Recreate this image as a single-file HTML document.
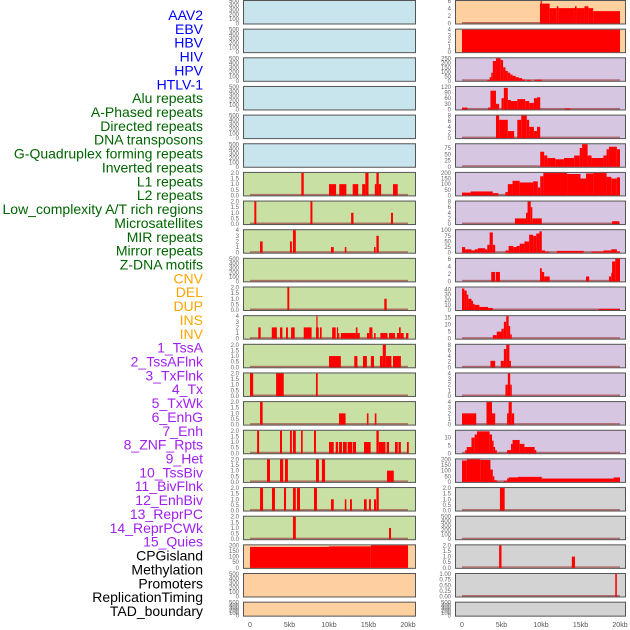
<!DOCTYPE html>
<html><head><meta charset="utf-8">
<style>
html,body{margin:0;padding:0;background:#fff;}
svg{display:block;font-family:"Liberation Sans",sans-serif;}
</style></head>
<body>
<svg id="chart" width="630" height="630" viewBox="0 0 630 630"></svg>
<script>
// ---------- labels ----------
const trackLabels = ["AAV2","EBV","HBV","HIV","HPV","HTLV-1","Alu repeats","A-Phased repeats","Directed repeats","DNA transposons","G-Quadruplex forming repeats","Inverted repeats","L1 repeats","L2 repeats","Low_complexity A/T rich regions","Microsatellites","MIR repeats","Mirror repeats","Z-DNA motifs","CNV","DEL","DUP","INS","INV","1_TssA","2_TssAFlnk","3_TxFlnk","4_Tx","5_TxWk","6_EnhG","7_Enh","8_ZNF_Rpts","9_Het","10_TssBiv","11_BivFlnk","12_EnhBiv","13_ReprPC","14_ReprPCWk","15_Quies","CPGisland","Methylation","Promoters","ReplicationTiming","TAD_boundary"];
const labelGroupSizes = [6,13,5,15,5];
const labelGroupColors = ["#0000ff","#006400","#ffa500","#a020f0","#000000"];
const xTickValues = [0,5,10,15,20];
const xTickLabels = ["0","5kb","10kb","15kb","20kb"];

// ---------- panel backgrounds per row ----------
const leftBg = ["b","b","b","b","b","b","g","g","g","g","g","g","g","g","g","g","g","g","g","o","o","o"];
const rightBg = ["o","o","p","p","p","p","p","p","p","p","p","p","p","p","p","p","p","y","y","y","y","y"];
// y-domain max and ticks
const leftMax = [500,500,500,500,500,500,2,2,4,500,2,4,2,2,2,2,2,2,2,200,500,500];
const rightMax = [6,4,250,120,8,90,200,8,100,6,44,16,8,4,4,14.4,200,2,500,2,1,500];
const leftTicks = [[0,100,200,300,400,500],[0,100,200,300,400,500],[0,100,200,300,400,500],[0,100,200,300,400,500],[0,100,200,300,400,500],[0,100,200,300,400,500],
 [0,0.5,1,1.5,2],[0,0.5,1,1.5,2],[0,1,2,3,4],[0,100,200,300,400,500],[0,0.5,1,1.5,2],[0,1,2,3,4],[0,0.5,1,1.5,2],[0,0.5,1,1.5,2],[0,0.5,1,1.5,2],[0,0.5,1,1.5,2],[0,0.5,1,1.5,2],[0,0.5,1,1.5,2],[0,0.5,1,1.5,2],[0,50,100,150,200],[0,100,200,300,400,500],[0,100,200,300,400,500]];
const rightTicks = [[0,2,4,6],[0,1,2,3,4],[0,50,100,150,200,250],[0,30,60,90,120],[0,2,4,6,8],[0,25,50,75],[0,50,100,150,200],[0,2,4,6,8],[0,25,50,75,100],[0,2,4,6],[0,10,20,30,40],[0,5,10,15],[0,2,4,6,8],[0,1,2,3,4],[0,1,2,3,4],[0,5,10],[0,50,100,150,200],[0,0.5,1,1.5,2],[0,100,200,300,400,500],[0,0.5,1,1.5,2],[0,0.25,0.5,0.75,1],[0,100,200,300,400,500]];
const tickDecimals = [[0,0,0,0,0,0,1,1,0,0,1,0,1,1,1,1,1,1,1,0,0,0],[0,0,0,0,0,0,0,0,0,0,0,0,0,0,0,0,0,1,0,1,2,0]];

// ---------- data segments: [startKb, endKb, value] ----------
const segL07 = [[6.5,6.8,2],[10.0,10.9,1],[11.3,12.2,1],[13.0,13.7,1],[14.2,14.6,1],[14.6,15.0,2],[15.8,16.0,1],[16.0,16.3,2],[16.3,16.6,1],[18.1,18.7,1]];
const segL08 = [[0.55,0.8,2],[7.65,7.9,2],[12.8,13.1,1],[17.85,18.1,1]];
const segL09 = [[1.27,1.6,2],[5.06,5.3,2],[5.44,5.8,4],[10.25,10.6,1],[12.0,12.2,1],[15.7,15.9,1],[16.0,16.3,3]];
const segL10 = [];
const segL11 = [[4.73,4.97,2],[17.0,17.3,1]];
const segL12 = [[1.05,1.35,2],[2.76,3.4,2],[3.8,4.1,2],[4.56,4.8,2],[5.2,5.66,2],[6.8,7.8,2],[8.35,8.4,2],[8.4,8.5,4],[8.5,8.7,2],[8.86,9.07,2],[10.4,10.85,2],[11.0,11.15,2],[11.15,11.27,1],[11.5,13.4,1],[13.4,13.6,2],[13.6,13.9,1],[14.8,15.1,1],[15.1,15.5,2],[15.7,15.9,1],[16.5,17.4,1],[17.6,18.35,1],[18.6,18.86,1],[18.86,19.07,2],[19.07,19.45,1],[19.75,20.05,1]];
const segL13 = [[10.0,11.5,1],[13.2,13.6,1],[14.3,14.8,1],[15.3,15.7,1],[16.45,16.8,1],[16.8,17.2,2],[17.2,17.9,1],[18.1,19.1,1]];
const segL14 = [[0.0,0.4,2],[3.3,4.27,2],[8.35,8.57,2]];
const segL15 = [[1.27,1.6,2],[11.27,12.1,1],[14.8,15.0,1],[15.8,16.0,1]];
const segL16 = [[0.9,1.15,2],[3.8,4.05,2],[5.06,5.3,2],[5.44,5.8,2],[6.46,6.67,2],[8.1,8.35,2],[10.0,10.6,1],[10.85,11.14,1],[11.27,11.65,1],[11.77,12.24,1],[12.36,12.95,1],[13.04,13.42,1],[14.43,15.27,1],[16.0,16.3,2],[16.3,17.15,1],[17.3,17.6,1],[18.35,18.7,1],[18.8,19.1,1],[19.87,20.1,1]];
const segL17 = [[2.15,2.53,2],[3.8,4.2,2],[4.43,4.8,2],[8.35,8.73,2],[9.1,9.5,2],[17.34,18.2,1]];
const segL18 = [[1.27,1.65,2],[2.78,3.16,2],[4.3,4.56,2],[5.44,5.8,2],[5.95,6.33,2],[8.1,8.48,2],[10.25,10.6,1],[12.0,12.2,1],[12.66,12.9,1],[14.43,14.77,1],[15.06,15.3,1],[15.7,15.95,1],[16.0,16.3,2]];
const segL19 = [[5.44,5.8,2],[17.6,17.85,1]];
const segL20 = [[0.0,10.0,186],[10.0,15.3,191],[15.3,20.0,200]];

const segR01 = [[9.87,9.95,5.3],[9.95,10.05,6],[10.05,11.1,5.3],[11.1,12.0,4.1],[12.0,12.2,4.6],[12.2,14.3,4.1],[14.3,14.5,4.6],[14.5,15.5,4.1],[15.5,16.0,4.6],[16.0,16.6,4.1],[16.6,20.0,3.3]];
const segR02 = [[0.0,20.0,4]];
const segR03 = [[3.2,3.5,10],[3.5,3.7,40],[3.7,3.9,90],[3.9,4.3,220],[4.3,4.9,250],[4.9,5.2,230],[5.2,5.5,150],[5.5,5.8,110],[5.8,6.1,90],[6.1,6.4,70],[6.4,6.8,55],[6.8,7.2,40],[7.2,7.6,30],[7.6,8.0,15],[8.2,8.7,10],[9.2,10.1,12]];
const segR04 = [[0.0,0.7,10],[3.3,3.6,10],[3.6,4.3,100],[4.3,4.7,30],[5.0,5.3,60],[5.3,5.8,115],[5.8,6.2,50],[6.2,7.0,45],[7.0,8.0,55],[8.0,8.5,45],[8.5,9.1,35],[9.1,9.5,60],[9.5,9.9,65],[13.0,13.7,5]];
const segR05 = [[4.3,4.7,8],[4.7,5.8,6.5],[5.8,6.6,2.5],[7.0,7.5,6.5],[7.5,8.2,8],[8.2,8.5,6.5],[8.5,9.1,4],[9.1,9.5,2.5],[9.5,9.9,4]];
const segR06 = [[9.9,10.4,60],[10.4,10.8,45],[10.8,11.8,35],[11.8,12.9,30],[12.9,14.2,35],[14.2,14.9,45],[14.9,15.2,75],[15.2,15.9,90],[15.9,16.4,45],[16.4,17.9,35],[17.9,18.3,45],[18.3,18.6,70],[18.6,19.6,80],[19.6,20.0,70]];
const segR07 = [[0.0,1.1,25],[1.1,3.9,35],[3.9,4.6,20],[5.5,5.8,30],[5.8,6.4,100],[6.4,7.3,130],[7.3,9.0,115],[9.0,9.6,125],[9.6,9.9,70],[9.9,10.3,170],[10.3,13.3,200],[13.3,15.0,190],[15.0,15.7,150],[15.7,16.6,195],[16.6,18.3,200],[18.3,18.9,165],[18.9,19.6,150],[19.6,20.0,160]];
const segR08 = [[6.7,8.1,2],[8.1,8.3,4],[8.3,8.7,8],[8.7,8.9,6],[8.9,10.1,2],[19.0,19.9,1]];
const segR09 = [[0.0,0.4,25],[0.4,1.2,15],[1.2,1.6,10],[1.6,2.0,15],[2.0,2.9,20],[2.9,3.2,15],[3.2,3.5,35],[3.5,3.9,90],[3.9,4.2,35],[5.5,5.9,10],[5.9,6.5,30],[6.5,6.9,25],[6.9,7.3,30],[7.3,7.9,40],[7.9,8.5,50],[8.5,9.0,80],[9.0,9.4,75],[9.4,9.8,85],[9.8,10.1,95],[10.1,10.5,10],[10.5,11.0,5],[12.0,15.4,8],[16.4,17.9,5],[17.9,18.5,10],[18.5,18.9,10],[18.9,19.6,15],[19.6,20.0,5]];
const segR10 = [[3.7,4.2,2.5],[4.3,4.8,2.5],[9.87,10.1,3.5],[10.1,10.4,2.5],[10.4,11.1,1.3],[15.7,16.1,1.3],[18.6,18.9,1.3],[18.9,19.0,2.3],[19.0,19.4,5.3],[19.4,20.0,6]];
const segR11 = [[0.0,0.3,42],[0.3,0.6,38],[0.6,0.8,30],[0.8,1.2,22],[1.2,1.4,18],[1.4,1.6,12],[1.6,2.2,10],[2.2,3.3,6],[3.3,3.9,4],[17.3,20.0,2]];
const segR12 = [[3.9,4.4,2.5],[4.4,5.0,5],[5.0,5.3,7],[5.3,5.6,12],[5.6,5.9,16],[5.9,6.1,9],[6.1,6.3,3]];
const segR13 = [[3.6,4.2,2.3],[4.9,5.3,2.3],[5.3,5.6,6.5],[5.6,6.0,8],[6.0,6.2,2.3]];
const segR14 = [[5.5,5.8,2],[5.8,6.1,4],[6.1,6.3,2]];
const segR15 = [[0.0,1.8,2],[3.1,3.8,4],[3.8,4.2,2],[5.7,5.9,2],[5.9,6.3,4],[6.3,6.6,2]];
const segR16 = [[0.4,0.6,2],[0.6,1.2,4],[1.2,1.6,10],[1.6,1.9,12],[1.9,3.5,14],[3.5,3.8,12],[3.8,4.0,8],[4.0,4.2,4],[4.2,4.4,2],[5.7,6.2,2],[6.2,6.4,6],[6.4,7.3,8.5],[7.3,7.9,6],[7.9,9.2,4],[9.2,9.4,2]];
const segR17 = [[0.0,0.6,190],[0.6,2.3,200],[2.3,3.6,195],[3.6,3.9,110],[3.9,4.1,50],[4.1,4.4,15],[4.4,4.6,5],[5.3,5.7,10],[5.7,5.9,30],[5.9,7.1,40],[7.1,10.1,45],[10.1,19.2,30],[19.2,20.0,40]];
const segR18 = [[4.8,5.4,2]];
const segR19 = [];
const segR20 = [[4.7,5.0,2],[13.9,14.3,1]];
const segR21 = [[19.4,19.6,1]];

const leftSegs = [null,null,null,null,null,null,segL07,segL08,segL09,segL10,segL11,segL12,segL13,segL14,segL15,segL16,segL17,segL18,segL19,segL20,null,null];
const rightSegs = [segR01,segR02,segR03,segR04,segR05,segR06,segR07,segR08,segR09,segR10,segR11,segR12,segR13,segR14,segR15,segR16,segR17,segR18,segR19,segR20,segR21,null];

// ---------- rendering ----------
const NS = "http://www.w3.org/2000/svg";
const svg = document.getElementById("chart");
const bgColors = {b:"#c8e4ec",g:"#c8e0a4",o:"#fed0a0",p:"#d6c6e2",y:"#d3d3d3"};
function mk(tag, attrs, parent){
  const e = document.createElementNS(NS, tag);
  for (const k in attrs) e.setAttribute(k, attrs[k]);
  (parent||svg).appendChild(e);
  return e;
}
// labels
let li = 0;
labelGroupSizes.forEach((n,g)=>{
  for (let j=0;j<n;j++,li++){
    const t = mk("text",{x:203,y:15+li*13.86+5,"text-anchor":"end","font-size":"14",fill:labelGroupColors[g]});
    t.textContent = trackLabels[li];
    
    
  }
});
const cols = [{x0:243,x1:416,zero:250,tickX:239},{x0:455,x1:626,zero:462,tickX:451}];
const pxPerKb = 7.9;
function drawPanel(col, row, bg, maxV, ticks, segs, dec){
  const c = cols[col];
  const top = row*28.65;
  const h = row===21 ? 15 : 24.5;
  const base = top + h - 1;
  const yTop = top + 1;
  const ys = v => base - (v/maxV)*(base-yTop);
  const xs = kb => c.zero + kb*pxPerKb;
  const g = mk("g",{});
  
  
  const r = mk("rect",{x:c.x0+0.5,y:top+0.5,width:c.x1-c.x0-1,height:h-1,fill:bgColors[bg],stroke:"#555","stroke-width":"1"},g);
  
  
  ticks.forEach(v=>{
    const t = mk("text",{x:c.tickX,y:ys(v)+2,"text-anchor":"end","font-size":"6",fill:"#666"},g);
    t.textContent = v.toFixed(dec);
    
    
  });
  if (segs){
    const bl = mk("rect",{x:xs(0),y:base-1.5,width:xs(20)-xs(0),height:1.5,fill:"#a04040",opacity:"0.7"},g);
    
    
    segs.forEach(s=>{
      const x1 = xs(s[0]), x2 = xs(s[1]), y = ys(Math.min(s[2],maxV));
      const b = mk("rect",{x:x1,y:y,width:Math.max(x2-x1,1.2),height:base-y,fill:"#ff0000"},g);
      
      
    });
  }
}
for (let r=0;r<22;r++){
  drawPanel(0,r,leftBg[r],leftMax[r],leftTicks[r],leftSegs[r],tickDecimals[0][r]);
  drawPanel(1,r,rightBg[r],rightMax[r],rightTicks[r],rightSegs[r],tickDecimals[1][r]);
}
// x-axis labels
cols.forEach((c,ci)=>{
  xTickValues.forEach((v,i)=>{
    const t = mk("text",{x:c.zero+v*pxPerKb,y:627,"text-anchor":"middle","font-size":"7",fill:"#555"});
    t.textContent = xTickLabels[i];
    
    
  });
});
</script>
</body></html>
